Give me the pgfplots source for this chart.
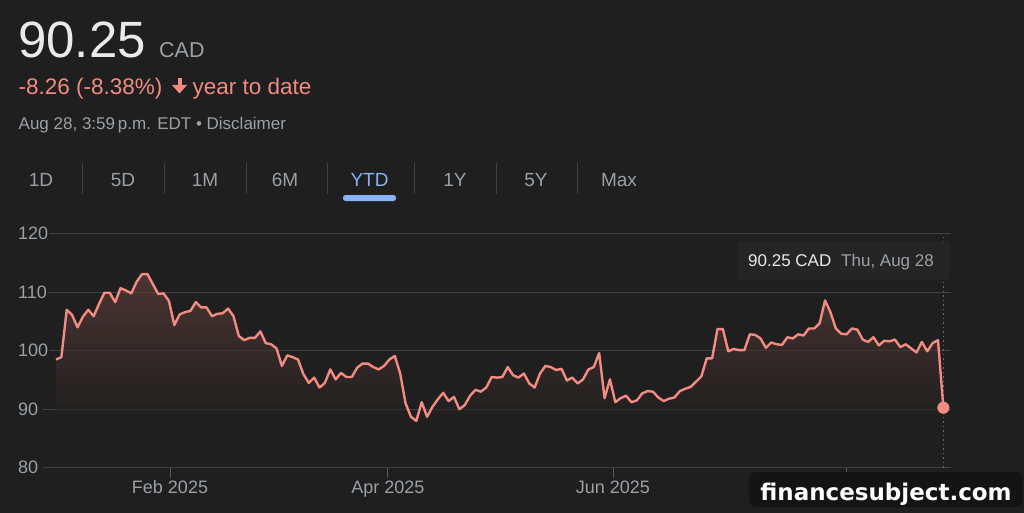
\documentclass[border=0pt]{standalone}
\usepackage{pgfplots}
\pgfplotsset{compat=1.18}
\usepackage{pgfplotstable}
\usepackage{fontspec}
\setmainfont{Liberation Sans}
\newfontfamily\wmfont{DejaVu Sans}
\definecolor{bg}{HTML}{1F1F1F}
\definecolor{salmon}{HTML}{F28B82}
\definecolor{txtgray}{HTML}{9AA0A6}
\definecolor{txtlight}{HTML}{E8EAED}
\definecolor{gridc}{HTML}{3F4245}
\definecolor{tickc}{HTML}{55585C}
\definecolor{tabblue}{HTML}{8AB4F8}
\definecolor{filltop}{RGB}{106,67,62}
\definecolor{fillbot}{RGB}{31,31,31}
\definecolor{tipbg}{RGB}{37,37,37}
\newcommand\fs[1]{\fontsize{#1}{#1}\selectfont}
\pgfplotstableread{
i v
0 98.5
1 98.9
2 107.0
3 106.1
4 104.0
5 105.8
6 107.0
7 105.9
8 108.0
9 109.9
10 109.9
11 108.3
12 110.7
13 110.3
14 109.8
15 111.8
16 113.1
17 113.1
18 111.4
19 109.7
20 109.8
21 108.5
22 104.4
23 106.2
24 106.6
25 106.8
26 108.3
27 107.4
28 107.4
29 105.9
30 106.3
31 106.4
32 107.2
33 105.9
34 102.5
35 101.8
36 102.2
37 102.2
38 103.3
39 101.3
40 101.1
41 100.4
42 97.4
43 99.2
44 98.9
45 98.5
46 96.0
47 94.5
48 95.4
49 93.7
50 94.5
51 96.8
52 95.1
53 96.2
54 95.5
55 95.5
56 97.1
57 97.8
58 97.8
59 97.2
60 96.8
61 97.4
62 98.5
63 99.1
64 96.1
65 91.0
66 88.7
67 88.0
68 91.2
69 88.7
70 90.4
71 91.7
72 92.8
73 91.4
74 92.1
75 90.0
76 90.7
77 92.3
78 93.3
79 93.0
80 93.7
81 95.5
82 95.4
83 95.5
84 97.2
85 95.8
86 95.4
87 96.1
88 94.4
89 93.7
90 96.1
91 97.4
92 97.2
93 96.7
94 96.9
95 94.9
96 95.4
97 94.4
98 95.1
99 96.8
100 97.2
101 99.6
102 91.9
103 95.1
104 91.2
105 91.9
106 92.3
107 91.2
108 91.5
109 92.7
110 93.1
111 93.0
112 92.0
113 91.4
114 91.8
115 92.0
116 93.1
117 93.5
118 93.8
119 94.7
120 95.6
121 98.7
122 98.7
123 103.7
124 103.7
125 99.9
126 100.3
127 100.1
128 100.1
129 102.8
130 102.7
131 102.1
132 100.5
133 101.4
134 101.1
135 101.0
136 102.3
137 102.1
138 102.8
139 102.6
140 103.8
141 103.8
142 104.7
143 108.6
144 106.6
145 103.8
146 102.9
147 102.8
148 103.8
149 103.6
150 101.9
151 101.5
152 102.3
153 100.9
154 101.7
155 101.6
156 101.9
157 100.6
158 101.1
159 100.4
160 99.7
161 101.5
162 99.9
163 101.3
164 101.8
165 90.25
}\pricedata
\begin{document}
\begin{tikzpicture}[x=1pt,y=1pt]
\fill[bg] (0,0) rectangle (1024,-513);
% header
\node[anchor=base west, inner sep=0, text=txtlight, font=\fs{51}] at (18,-57.3) {90.25};
\node[anchor=base west, inner sep=0, text=txtgray, font=\fs{21.5}] at (159,-57.3) {CAD};
\node[anchor=base west, inner sep=0, text=salmon, font=\fs{22.5}] at (18.5,-94.3) {-8.26 (-8.38\%)};
\fill[salmon] (177.5,-78) rectangle (181.5,-87);
\fill[salmon] (172,-85) -- (187,-85) -- (179.5,-93.5) -- cycle;
\node[anchor=base west, inner sep=0, text=salmon, font=\fs{22.5}] at (192.5,-94.3) {year to date};
\node[anchor=base west, inner sep=0, text=txtgray, font=\fs{17}] at (18.5,-130) {Aug 28, 3:59\,p.m. EDT • Disclaimer};
% tabs
\foreach \t/\x in {1D/41,5D/123,1M/205,6M/285,1Y/455,5Y/536,Max/619}
  \node[anchor=base, inner sep=0, text=txtgray, font=\fs{19}] at (\x,-186) {\t};
\node[anchor=base, inner sep=0, text=tabblue, font=\fs{19}] at (369.5,-186) {YTD};
\foreach \x in {82,164,246,327,414,496,577}
  \draw[gridc, line width=1pt] (\x,-163) -- (\x,-194);
\fill[tabblue, rounded corners=2.5pt] (343,-195) rectangle (396,-201);
% chart
\begin{axis}[
  at={(43pt,-467.7pt)}, anchor=south west,
  scale only axis, width=908pt, height=234pt,
  xmin=-2.417, xmax=166.42, ymin=80, ymax=120,
  clip=false,
  axis line style={draw=none},
  ymajorgrids, grid style={gridc, line width=1.3pt},
  ytick={80,90,100,110,120},
  xtick={21.2,61.73,103.57,146.9},
  xticklabels={Feb 2025,Apr 2025,Jun 2025,Aug 2025},
  xtick pos=left, ytick pos=left,
  tick align=outside, major tick length=10pt,
  ytick style={draw=none},
  xtick style={draw=tickc, line width=1pt},
  /pgf/number format/assume math mode=true,
  tick label style={font=\fs{18}, text=txtgray},
  yticklabel style={anchor=west, xshift=-16pt, fill=bg, inner sep=1pt},
  xticklabel style={inner sep=3pt},
]
\addplot[draw=none, top color=filltop, bottom color=fillbot, fill opacity=0.6]
  table[x=i, y=v] {\pricedata} -- (axis cs:165,88) -- (axis cs:0,88) -- cycle;
\draw[txtgray!60!bg, dash pattern=on 1.5pt off 3pt, line width=1pt] (axis cs:165,80) -- (axis cs:165,120);
\addplot[salmon, line width=2.4pt, line join=round, mark=none] table[x=i, y=v] {\pricedata};
\addplot[only marks, mark=*, mark size=5.8pt, mark options={draw=salmon, fill=salmon}] coordinates {(165,90.25)};
\end{axis}
% tooltip
\fill[tipbg, rounded corners=4pt] (737,-241.7) rectangle (950,-280);
\node[anchor=base west, inner sep=0, text=txtlight, font=\fs{17}] at (748,-266.7) {90.25 CAD};
\node[anchor=base west, inner sep=0, text=txtgray, font=\fs{17}] at (841,-266.7) {Thu, Aug 28};
% watermark
\fill[black!92, rounded corners=7pt] (749,-472) rectangle (1022.7,-507);
\node[anchor=base, inner sep=0, text=white, font=\wmfont\bfseries\fs{23}] at (886,-500) {financesubject.com};
\end{tikzpicture}
\end{document}
